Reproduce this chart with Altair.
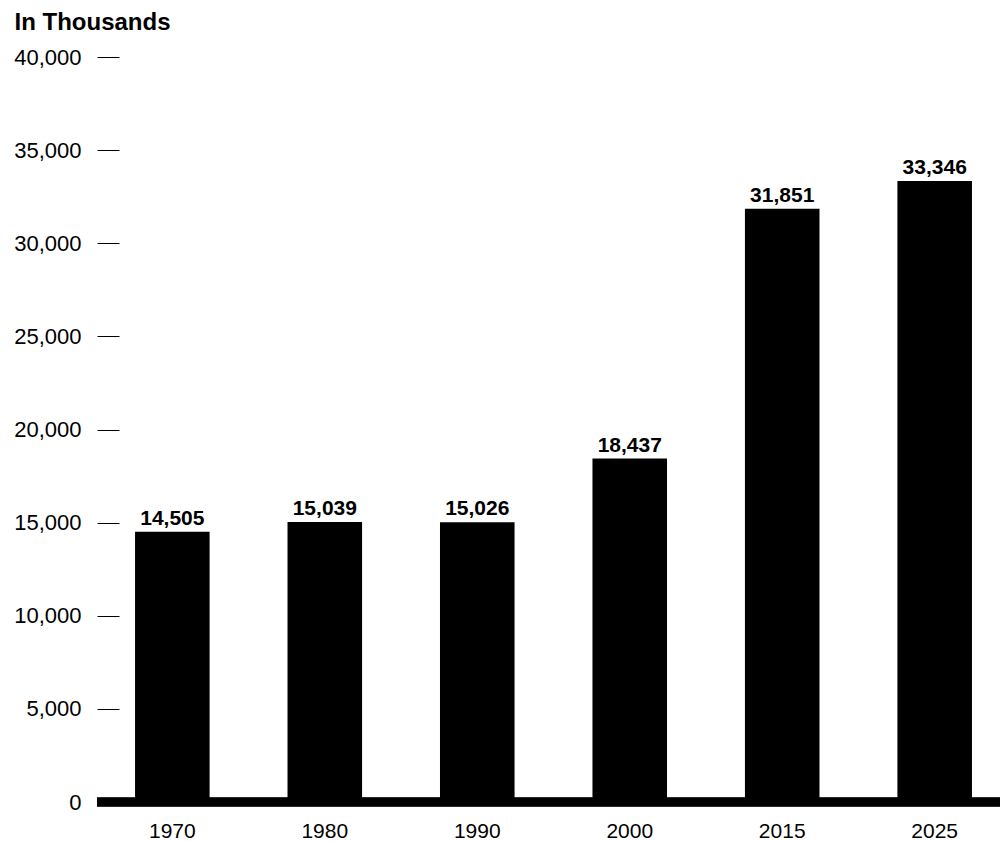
import altair as alt
import pandas as pd

years = ["1970", "1980", "1990", "2000", "2015", "2025"]
values = [14505, 15039, 15026, 18437, 31851, 33346]
y_ticks = [0, 5000, 10000, 15000, 20000, 25000, 30000, 35000, 40000]

df = pd.DataFrame({"year": years, "value": values})

FONT = "Liberation Sans"
W, H = 881, 745

x_enc = alt.X(
    "year:N",
    sort=years,
    scale=alt.Scale(paddingInner=0.511, paddingOuter=0.1445, align=0.364),
    axis=alt.Axis(
        title=None, domain=False, ticks=False, tickSize=0, labelPadding=18,
        labelFont=FONT, labelFontSize=21, labelColor="#000", labelAngle=0,
    ),
)
y_enc = alt.Y(
    "value:Q",
    scale=alt.Scale(domain=[0, 40000], nice=False, zero=True),
    axis=alt.Axis(
        values=y_ticks, format=",d", domain=False, grid=False,
        tickSize=22, tickColor="#000", tickWidth=1, labelPadding=16,
        labelFont=FONT, labelFontSize=22, labelColor="#000",
        title="In Thousands", titleAngle=0, titleAlign="left",
        titleBaseline="alphabetic", titleX=-105, titleY=-28,
        titleFont=FONT, titleFontSize=24, titleFontWeight="bold", titleColor="#000",
    ),
)

bars = alt.Chart(df).mark_bar(color="#000").encode(x=x_enc, y=y_enc)

labels = alt.Chart(df).mark_text(
    font=FONT, fontSize=21, fontWeight="bold", color="#000",
    baseline="alphabetic", align="center", dy=-7,
).encode(x=alt.X("year:N", sort=years), y="value:Q", text=alt.Text("value:Q", format=","))

baseline = alt.Chart(df).mark_rule(color="#000", strokeWidth=8.7).encode(
    x=alt.value(-22), x2=alt.value(W), y=alt.datum(0)
)

chart = alt.layer(bars, labels, baseline).properties(
    width=W, height=H,
    background="#ffffff",
    autosize=alt.AutoSizeParams(type="none"),
    padding={"left": 119, "top": 57, "right": 0, "bottom": 38},
).configure_view(strokeWidth=0, stroke=None)

chart.save("out.html", embed_options={"renderer": "svg", "actions": False})
